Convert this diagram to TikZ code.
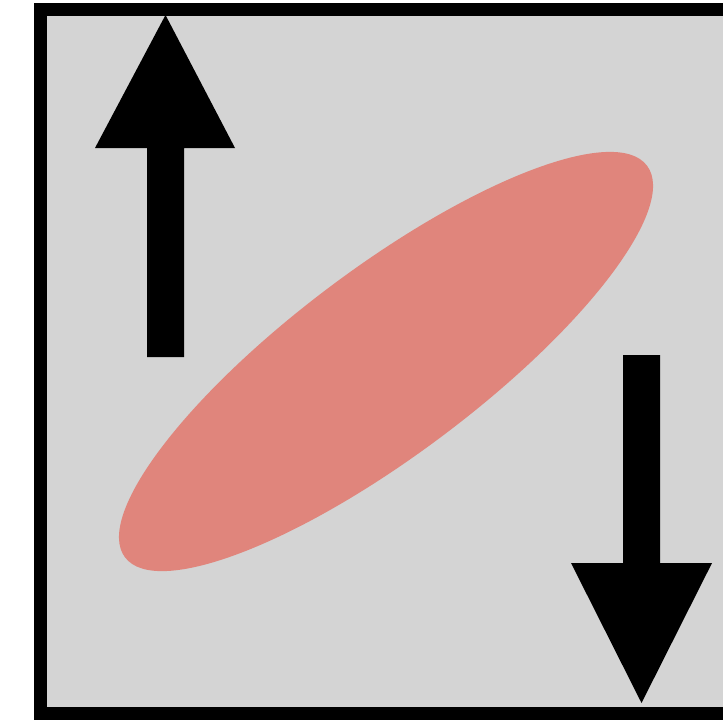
\documentclass[tikz,border=0pt]{standalone}
\usepackage{tikz}
\definecolor{panelgray}{HTML}{D4D4D4}
\definecolor{blobred}{HTML}{E0857C}

\begin{document}
\begin{tikzpicture}
      \useasboundingbox (0,0) rectangle (7.23,7.21);
      \clip (0,0) rectangle (7.23,7.21);
      % Panel: gray square with thick frame
      \filldraw[fill=panelgray, line width=0.13cm] (0.4075,0.075) rectangle (7.9,7.115);
      % Tilted blob
      \fill[blobred] (3.86,3.595) ellipse [x radius=3.263, y radius=0.934, rotate=36.87];
      % Arrow 1: up, top left
      \fill (1.47,3.64) -- (1.84,3.64) -- (1.84,5.73) -- (2.35,5.73)
            -- (1.655,7.06) -- (0.95,5.73) -- (1.47,5.73) -- cycle;
      % Arrow 2: down, bottom right
      \fill (6.23,3.66) -- (6.60,3.66) -- (6.60,1.58) -- (7.12,1.58)
            -- (6.415,0.18) -- (5.71,1.58) -- (6.23,1.58) -- cycle;
    \end{tikzpicture}
\end{document}
